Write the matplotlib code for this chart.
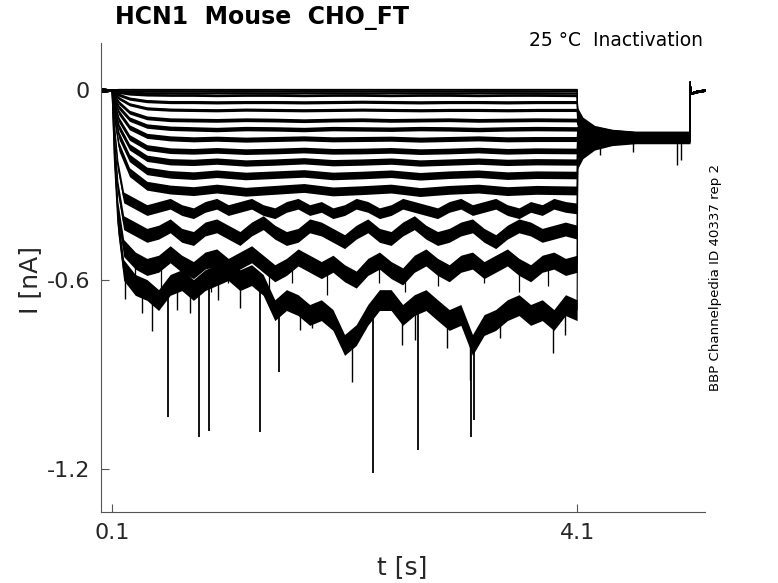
import numpy as np
import matplotlib
matplotlib.use("Agg")
import matplotlib.pyplot as plt

# ---------------- data ----------------
T_pre = [0.005, 0.10]
# coarse sample times for the small traces
T = [0.10, 0.12, 0.16, 0.25, 0.40, 0.60, 0.80, 1.00, 1.25, 1.50,
     1.75, 2.00, 2.25, 2.50, 2.75, 3.00, 3.25, 3.50, 3.75, 4.10]
# finer sample times for the large (noisy) traces
Td = [0.10, 0.12, 0.15, 0.2, 0.3, 0.4, 0.5, 0.6, 0.7, 0.8, 0.9, 1.0, 1.1, 1.2,
      1.3, 1.4, 1.5, 1.6, 1.7, 1.8, 1.9, 2.0, 2.1, 2.2, 2.3, 2.4, 2.5, 2.6, 2.7,
      2.8, 2.9, 3.0, 3.1, 3.2, 3.3, 3.4, 3.5, 3.6, 3.7, 3.8, 3.9, 4.0, 4.1]

tr00 = [0, 0.001, 0.002, 0.002, 0.002, 0.002, 0.002, 0.002, 0.002, 0.002, 0.002, 0.002, 0.002, 0.002, 0.002, 0.002, 0.002, 0.002, 0.002, 0.002]
tr01 = [0, -0.001, -0.002, -0.003, -0.003, -0.003, -0.004, -0.003, -0.003, -0.004, -0.003, -0.003, -0.004, -0.003, -0.003, -0.004, -0.003, -0.003, -0.004, -0.003]
tr02 = [0, -0.002, -0.004, -0.007, -0.009, -0.009, -0.010, -0.009, -0.009, -0.010, -0.009, -0.009, -0.010, -0.009, -0.009, -0.010, -0.009, -0.009, -0.010, -0.010]
tr03 = [0, -0.003, -0.007, -0.012, -0.015, -0.016, -0.016, -0.017, -0.016, -0.016, -0.017, -0.016, -0.016, -0.017, -0.016, -0.016, -0.017, -0.016, -0.016, -0.017]
tr04 = [0, -0.006, -0.015, -0.027, -0.035, -0.038, -0.038, -0.039, -0.038, -0.038, -0.039, -0.038, -0.037, -0.038, -0.039, -0.038, -0.038, -0.039, -0.038, -0.038]
tr05 = [0, -0.010, -0.026, -0.045, -0.058, -0.062, -0.063, -0.064, -0.062, -0.063, -0.064, -0.063, -0.062, -0.063, -0.064, -0.063, -0.063, -0.064, -0.063, -0.063]
tr06 = [0, -0.016, -0.040, -0.070, -0.088, -0.094, -0.095, -0.096, -0.094, -0.095, -0.097, -0.095, -0.094, -0.096, -0.095, -0.094, -0.096, -0.095, -0.094, -0.095]
tr07 = [0, -0.022, -0.055, -0.092, -0.114, -0.121, -0.123, -0.125, -0.122, -0.123, -0.125, -0.122, -0.123, -0.124, -0.122, -0.123, -0.125, -0.123, -0.122, -0.123]
tr08 = [0, -0.030, -0.072, -0.118, -0.145, -0.153, -0.156, -0.154, -0.157, -0.155, -0.153, -0.156, -0.155, -0.154, -0.157, -0.155, -0.153, -0.156, -0.155, -0.155]
tr09 = [0, -0.040, -0.095, -0.150, -0.182, -0.192, -0.194, -0.191, -0.195, -0.193, -0.190, -0.194, -0.193, -0.191, -0.195, -0.193, -0.190, -0.194, -0.192, -0.193]
tr10 = [0, -0.050, -0.118, -0.180, -0.216, -0.227, -0.229, -0.225, -0.231, -0.228, -0.224, -0.230, -0.228, -0.225, -0.231, -0.228, -0.225, -0.229, -0.227, -0.228]
tr11 = [0, -0.065, -0.145, -0.215, -0.256, -0.267, -0.271, -0.265, -0.272, -0.268, -0.264, -0.272, -0.269, -0.265, -0.273, -0.268, -0.265, -0.271, -0.268, -0.269]
tr12 = [0, -0.085, -0.180, -0.260, -0.303, -0.315, -0.320, -0.312, -0.322, -0.316, -0.310, -0.321, -0.317, -0.312, -0.323, -0.316, -0.312, -0.320, -0.316, -0.318]

tr13 = [0, -0.12, -0.24,
        -0.34, -0.36, -0.38, -0.37, -0.36, -0.38, -0.39, -0.37, -0.36, -0.38,
        -0.37, -0.36, -0.38, -0.39, -0.37, -0.36, -0.38, -0.37, -0.39, -0.38,
        -0.36, -0.37, -0.39, -0.38, -0.36, -0.37, -0.38, -0.39, -0.37, -0.36,
        -0.38, -0.37, -0.36, -0.38, -0.39, -0.37, -0.38, -0.36, -0.37, -0.375]
tr14 = [0, -0.16, -0.31,
        -0.42, -0.44, -0.46, -0.45, -0.43, -0.46, -0.47, -0.44, -0.43, -0.45,
        -0.47, -0.44, -0.42, -0.45, -0.47, -0.46, -0.43, -0.44, -0.46, -0.48,
        -0.45, -0.43, -0.46, -0.47, -0.44, -0.42, -0.45, -0.47, -0.46, -0.44,
        -0.43, -0.46, -0.48, -0.45, -0.43, -0.44, -0.46, -0.45, -0.44, -0.45]
tr15 = [0, -0.20, -0.38,
        -0.50, -0.54, -0.56, -0.55, -0.52, -0.55, -0.57, -0.54, -0.53, -0.56,
        -0.54, -0.52, -0.55, -0.58, -0.56, -0.53, -0.55, -0.57, -0.55, -0.58,
        -0.60, -0.56, -0.54, -0.57, -0.59, -0.55, -0.53, -0.56, -0.58, -0.55,
        -0.54, -0.57, -0.55, -0.53, -0.56, -0.58, -0.55, -0.54, -0.56, -0.55]
tr16 = [0, -0.22, -0.42,
        -0.570, -0.617, -0.633, -0.665, -0.617, -0.602, -0.633, -0.602, -0.586, -0.570,
        -0.602, -0.586, -0.617, -0.697, -0.665, -0.681, -0.712, -0.697, -0.728, -0.807,
        -0.776, -0.712, -0.665, -0.665, -0.712, -0.681, -0.665, -0.697, -0.728, -0.712,
        -0.807, -0.744, -0.728, -0.697, -0.681, -0.712, -0.697, -0.728, -0.681, -0.697]

small_traces = [tr00, tr01, tr02, tr03, tr04, tr05, tr06, tr07, tr08, tr09,
                tr10, tr11, tr12]
large_traces = [tr13, tr14, tr15, tr16]
noise_hw = [0.003, 0.003, 0.003, 0.004, 0.005, 0.005, 0.006, 0.007, 0.008,
            0.009, 0.010, 0.012, 0.014, 0.017, 0.022, 0.027, 0.033]

# tail (after 4.1 s)
T_tail = [4.105, 4.15, 4.25, 4.40, 4.60, 4.80, 5.00, 5.07]
tail0 = [-0.070, -0.075, -0.080, -0.085, -0.090, -0.100, -0.110, -0.120, -0.130,
         -0.140, -0.150, -0.160, -0.170, -0.185, -0.200, -0.215, -0.235]
tail1 = [-0.098, -0.101, -0.105, -0.108, -0.111, -0.118, -0.124, -0.131, -0.137,
         -0.144, -0.150, -0.157, -0.163, -0.173, -0.183, -0.193, -0.205]
tail2 = [-0.122, -0.124, -0.126, -0.127, -0.129, -0.133, -0.136, -0.140, -0.143,
         -0.147, -0.150, -0.154, -0.157, -0.162, -0.168, -0.173, -0.180]
tail3 = [-0.132, -0.133, -0.134, -0.135, -0.137, -0.139, -0.141, -0.144, -0.146,
         -0.149, -0.151, -0.153, -0.155, -0.158, -0.161, -0.164, -0.168]
tailL = [-0.138, -0.139, -0.140, -0.141, -0.142, -0.144, -0.145, -0.147, -0.148,
         -0.150, -0.151, -0.153, -0.154, -0.156, -0.158, -0.160, -0.162]

T_end = [5.072, 5.08, 5.12, 5.20]
end_vals = [0.025, -0.010, -0.005, 0.000]

# large isolated spikes
spike_t = [0.582, 0.848, 0.934, 1.373, 2.345, 2.732, 3.188, 3.214, 1.537]
spike_bot = [-1.035, -1.099, -1.080, -1.083, -1.213, -1.140, -1.099, -1.045, -0.893]
# small downward excursions of the deepest trace
small_t = [0.212, 0.358, 0.444, 0.659, 0.771, 1.012, 1.201, 1.717, 1.820, 2.104,
           2.165, 2.595, 2.706, 2.982, 3.180, 3.438, 3.894, 3.997]
small_bot = [-0.663, -0.705, -0.764, -0.695, -0.707, -0.665, -0.691, -0.760, -0.752, -0.837,
             -0.925, -0.807, -0.792, -0.817, -0.918, -0.785, -0.833, -0.776]
# excursions of the second deepest trace
mid_t = [0.30, 0.52, 0.70, 0.95, 1.10, 1.45, 1.65, 1.95, 2.40, 2.62, 2.90, 3.30, 3.60, 3.85]
mid_bot = [-0.62, -0.63, -0.61, -0.64, -0.61, -0.63, -0.61, -0.65, -0.61, -0.64, -0.62, -0.61, -0.64, -0.62]
tail_spike_t = [4.30, 4.58, 4.96, 4.99]
tail_spike_bot = [-0.205, -0.195, -0.237, -0.220]

# ---------------- figure ----------------
W, H = 778, 583
fig = plt.figure(figsize=(W / 100, H / 100), dpi=100)
ax = fig.add_axes([101 / W, 1 - 512 / H, 604 / W, 469 / H])

all_traces = [(T, tr) for tr in small_traces] + [(Td, tr) for tr in large_traces]
for k, (grid, tr) in enumerate(all_traces):
    t = list(T_pre) + list(grid[1:]) + T_tail + T_end
    v = [0.0, 0.0] + list(tr[1:]) + [tail0[k], tail1[k], tail2[k], tail3[k],
                                     tailL[k], tailL[k], tailL[k], tailL[k]] + end_vals
    hw = ([0.006, 0.004] + [noise_hw[k]] * (len(grid) - 1)
          + [0.014, 0.012, 0.010, 0.008, 0.008, 0.008, 0.008, 0.008]
          + [0.004] * len(T_end))
    t = np.array(t)
    v = np.array(v)
    hw = np.array(hw)
    ax.fill_between(t, v - hw, v + hw, color='black', lw=0)
    ax.plot(t, v, color='black', lw=0.8)

Td_arr = np.array(Td)
ax.vlines(spike_t, np.interp(spike_t, Td_arr, tr16), spike_bot, color='black', lw=1.3)
ax.vlines(small_t, np.interp(small_t, Td_arr, tr16), small_bot, color='black', lw=1.0)
ax.vlines(mid_t, np.interp(mid_t, Td_arr, tr15), mid_bot, color='black', lw=0.9)
ax.vlines(tail_spike_t, [-0.16] * len(tail_spike_t), tail_spike_bot, color='black', lw=1.0)

ax.set_xlim(0.005, 5.2)
ax.set_ylim(-1.336, 0.149)
ax.set_xticks([0.1, 4.1])
ax.set_xticklabels(['0.1', '4.1'])
ax.set_yticks([0, -0.6, -1.2])
ax.set_yticklabels(['0', '-0.6', '-1.2'])
for s in ['top', 'right']:
    ax.spines[s].set_visible(False)
for s in ['left', 'bottom']:
    ax.spines[s].set_color('#555555')
    ax.spines[s].set_linewidth(0.8)
ax.tick_params(direction='in', length=6, width=0.8, color='#555555',
               labelsize=16, labelcolor='#262626', pad=8)

fig.text(402 / W, 1 - 567 / H, 't [s]', ha='center', va='center', fontsize=18, color='#262626')
fig.text(30 / W, 1 - 280 / H, 'I [nA]', ha='center', va='center', fontsize=18,
         color='#262626', rotation=90)
fig.text(115 / W, 1 - 18 / H, 'HCN1  Mouse  CHO_FT', ha='left', va='center',
         fontsize=17, fontweight='bold', color='black')
fig.text(703 / W, 1 - 41 / H, '25 °C  Inactivation', ha='right', va='center',
         fontsize=13.5, color='black')
fig.text(716 / W, 1 - 277 / H, 'BBP Channelpedia ID 40337 rep 2', ha='center',
         va='center', fontsize=9.6, color='black', rotation=90)

fig.savefig('out.png', dpi=100)
